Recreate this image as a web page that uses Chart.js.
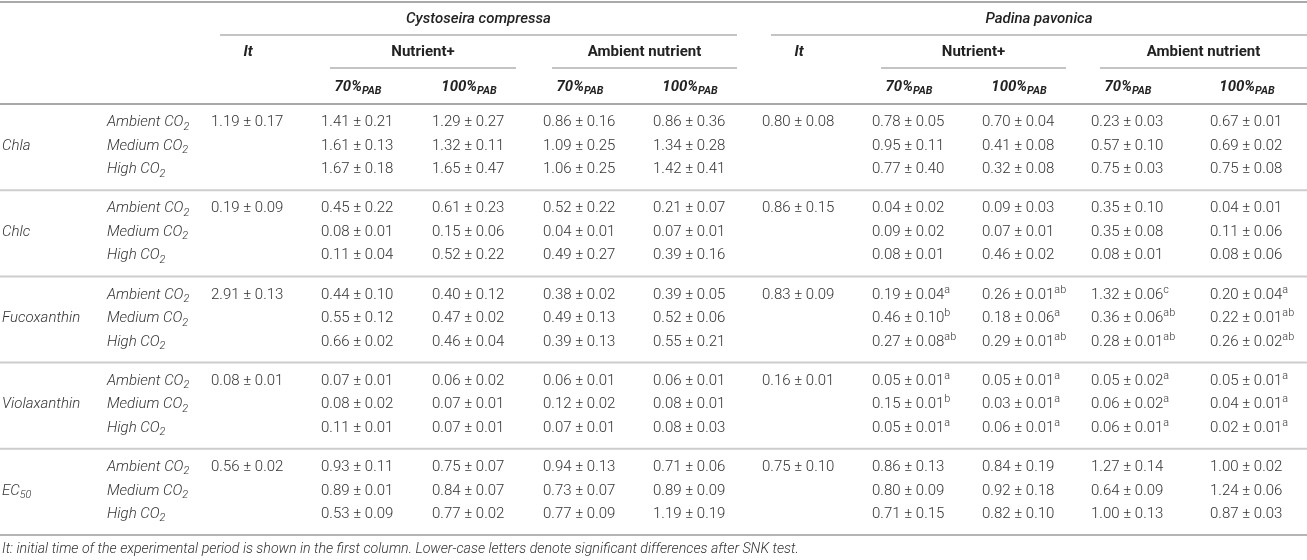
<!DOCTYPE html>
<html lang="en">
<head>
<meta charset="UTF-8">
<title>Pigments and EC50 – Cystoseira compressa / Padina pavonica</title>
<script src="https://cdn.jsdelivr.net/npm/chart.js"></script>
<style>
  html, body { margin: 0; padding: 0; background: #fff; }
  #table-chart { display: block; }
</style>
</head>
<body>
<canvas id="table-chart" width="1307" height="560"></canvas>
<script>
  // ---- labels ----
  const pigments = ['Chla', 'Chlc', 'Fucoxanthin', 'Violaxanthin', 'EC_{50}'];
  const co2Levels = ['Ambient CO_{2}', 'Medium CO_{2}', 'High CO_{2}'];
  const species = ['Cystoseira compressa', 'Padina pavonica'];
  const nutrients = ['Nutrient+', 'Ambient nutrient'];
  const lightLevels = ['70%_{PAB}', '100%_{PAB}'];
  const initialLabel = 'It';
  const footnote = 'It: initial time of the experimental period is shown in the first column. Lower-case letters denote significant differences after SNK test.';

  // ---- Cystoseira compressa (one value per pigment for It, then pigment x CO2) ----
  const cysItMean = [1.19, 0.19, 2.91, 0.08, 0.56];
  const cysItSe = [0.17, 0.09, 0.13, 0.01, 0.02];
  const cysNut70Mean = [1.41, 1.61, 1.67, 0.45, 0.08, 0.11, 0.44, 0.55, 0.66, 0.07, 0.08, 0.11, 0.93, 0.89, 0.53];
  const cysNut70Se = [0.21, 0.13, 0.18, 0.22, 0.01, 0.04, 0.10, 0.12, 0.02, 0.01, 0.02, 0.01, 0.11, 0.01, 0.09];
  const cysNut100Mean = [1.29, 1.32, 1.65, 0.61, 0.15, 0.52, 0.40, 0.47, 0.46, 0.06, 0.07, 0.07, 0.75, 0.84, 0.77];
  const cysNut100Se = [0.27, 0.11, 0.47, 0.23, 0.06, 0.22, 0.12, 0.02, 0.04, 0.02, 0.01, 0.01, 0.07, 0.07, 0.02];
  const cysAmb70Mean = [0.86, 1.09, 1.06, 0.52, 0.04, 0.49, 0.38, 0.49, 0.39, 0.06, 0.12, 0.07, 0.94, 0.73, 0.77];
  const cysAmb70Se = [0.16, 0.25, 0.25, 0.22, 0.01, 0.27, 0.02, 0.13, 0.13, 0.01, 0.02, 0.01, 0.13, 0.07, 0.09];
  const cysAmb100Mean = [0.86, 1.34, 1.42, 0.21, 0.07, 0.39, 0.39, 0.52, 0.55, 0.06, 0.08, 0.08, 0.71, 0.89, 1.19];
  const cysAmb100Se = [0.36, 0.28, 0.41, 0.07, 0.01, 0.16, 0.05, 0.06, 0.21, 0.01, 0.01, 0.03, 0.06, 0.09, 0.19];

  // ---- Padina pavonica ----
  const padItMean = [0.80, 0.86, 0.83, 0.16, 0.75];
  const padItSe = [0.08, 0.15, 0.09, 0.01, 0.10];
  const padNut70Mean = [0.78, 0.95, 0.77, 0.04, 0.09, 0.08, 0.19, 0.46, 0.27, 0.05, 0.15, 0.05, 0.86, 0.80, 0.71];
  const padNut70Se = [0.05, 0.11, 0.40, 0.02, 0.02, 0.01, 0.04, 0.10, 0.08, 0.01, 0.01, 0.01, 0.13, 0.09, 0.15];
  const padNut70Sig = ['', '', '', '', '', '', 'a', 'b', 'ab', 'a', 'b', 'a', '', '', ''];
  const padNut100Mean = [0.70, 0.41, 0.32, 0.09, 0.07, 0.46, 0.26, 0.18, 0.29, 0.05, 0.03, 0.06, 0.84, 0.92, 0.82];
  const padNut100Se = [0.04, 0.08, 0.08, 0.03, 0.01, 0.02, 0.01, 0.06, 0.01, 0.01, 0.01, 0.01, 0.19, 0.18, 0.10];
  const padNut100Sig = ['', '', '', '', '', '', 'ab', 'a', 'ab', 'a', 'a', 'a', '', '', ''];
  const padAmb70Mean = [0.23, 0.57, 0.75, 0.35, 0.35, 0.08, 1.32, 0.36, 0.28, 0.05, 0.06, 0.06, 1.27, 0.64, 1.00];
  const padAmb70Se = [0.03, 0.10, 0.03, 0.10, 0.08, 0.01, 0.06, 0.06, 0.01, 0.02, 0.02, 0.01, 0.14, 0.09, 0.13];
  const padAmb70Sig = ['', '', '', '', '', '', 'c', 'ab', 'ab', 'a', 'a', 'a', '', '', ''];
  const padAmb100Mean = [0.67, 0.69, 0.75, 0.04, 0.11, 0.08, 0.20, 0.22, 0.26, 0.05, 0.04, 0.02, 1.00, 1.24, 0.87];
  const padAmb100Se = [0.01, 0.02, 0.08, 0.01, 0.06, 0.06, 0.04, 0.01, 0.02, 0.01, 0.01, 0.01, 0.02, 0.06, 0.03];
  const padAmb100Sig = ['', '', '', '', '', '', 'a', 'ab', 'ab', 'a', 'a', 'a', '', '', ''];

  // ---- table layout (canvas units) ----
  const layout = {
    width: 1307, height: 560, left: 2,
    colWidths: [105, 104, 110, 111, 111, 110, 109, 110, 110, 109, 119],
    valueWidth: 74, spanInset: 9, spanOver: 10,
    topLine: 2, speciesY: 19, speciesLine: 35, nutrientY: 52, nutrientLine: 68, lightY: 87, headerLine: 104,
    groupPitch: 86.2, firstRow: 18.5, rowPitch: 23.5, footY: 549
  };
  const FONT = 'Roboto, "Liberation Sans", Arial, sans-serif';
  const styles = {
    value:   { style: 'normal', weight: 300, size: 15, color: '#333', align: 'left' },
    co2:     { style: 'italic', weight: 300, size: 15, color: '#333', align: 'left' },
    pigment: { style: 'italic', weight: 300, size: 15, color: '#333', align: 'left' },
    species: { style: 'italic', weight: 500, size: 15, color: '#222', align: 'center' },
    nutrient:{ style: 'normal', weight: 700, size: 15, color: '#222', align: 'center' },
    head:    { style: 'italic', weight: 700, size: 15, color: '#222', align: 'center' },
    foot:    { style: 'italic', weight: 300, size: 14.2, color: '#333', align: 'left' }
  };

  const colLeft = [layout.left];
  layout.colWidths.forEach((w, i) => colLeft.push(colLeft[i] + w));

  // value columns: column index, initial-time flag, source arrays
  const valueColumns = [
    { col: 2, initial: true, mean: cysItMean, se: cysItSe },
    { col: 3, mean: cysNut70Mean, se: cysNut70Se },
    { col: 4, mean: cysNut100Mean, se: cysNut100Se },
    { col: 5, mean: cysAmb70Mean, se: cysAmb70Se },
    { col: 6, mean: cysAmb100Mean, se: cysAmb100Se },
    { col: 7, initial: true, mean: padItMean, se: padItSe },
    { col: 8, mean: padNut70Mean, se: padNut70Se, sig: padNut70Sig },
    { col: 9, mean: padNut100Mean, se: padNut100Se, sig: padNut100Sig },
    { col: 10, mean: padAmb70Mean, se: padAmb70Se, sig: padAmb70Sig },
    { col: 11, mean: padAmb100Mean, se: padAmb100Se, sig: padAmb100Sig }
  ];

  function rowY(p, c) {
    return layout.headerLine + p * layout.groupPitch + layout.firstRow + c * layout.rowPitch;
  }
  function fmt(m, s, sig) {
    return m.toFixed(2) + ' ± ' + s.toFixed(2) + (sig ? '^{' + sig + '}' : '');
  }

  // body cells
  const cells = [];
  pigments.forEach((pig, p) => {
    cells.push({ x: colLeft[0], y: rowY(p, 1), text: pig, role: 'pigment' });
    co2Levels.forEach((lvl, c) => {
      cells.push({ x: colLeft[1], y: rowY(p, c), text: lvl, role: 'co2' });
      valueColumns.forEach(vc => {
        if (vc.initial) {
          if (c === 0) cells.push({ x: colLeft[vc.col], y: rowY(p, c), text: fmt(vc.mean[p], vc.se[p]), role: 'value' });
        } else {
          const i = p * 3 + c;
          cells.push({ x: colLeft[vc.col], y: rowY(p, c), text: fmt(vc.mean[i], vc.se[i], vc.sig ? vc.sig[i] : ''), role: 'value' });
        }
      });
    });
  });
  cells.push({ x: colLeft[0], y: layout.footY, text: footnote, role: 'foot' });

  // header cells and spanning rules
  function spanStart(col) { return colLeft[col] + layout.spanInset; }
  function spanEnd(col) { return col === 11 ? layout.width : colLeft[col] + layout.valueWidth + layout.spanOver; }
  const speciesSpans = [[2, 6], [7, 11]];
  const nutrientSpans = [[3, 4], [5, 6], [8, 9], [10, 11]];
  const headers = [];
  speciesSpans.forEach((s, i) => {
    headers.push({ x: (spanStart(s[0]) + spanEnd(s[1])) / 2, y: layout.speciesY, text: species[i], role: 'species' });
  });
  nutrientSpans.forEach((s, i) => {
    headers.push({ x: (spanStart(s[0]) + spanEnd(s[1])) / 2, y: layout.nutrientY, text: nutrients[i % 2], role: 'nutrient' });
    s.forEach((col, j) => {
      headers.push({ x: colLeft[col] + layout.valueWidth / 2, y: layout.lightY, text: lightLevels[j], role: 'head' });
    });
  });
  [2, 7].forEach(col => {
    headers.push({ x: colLeft[col] + layout.valueWidth / 2, y: layout.nutrientY, text: initialLabel, role: 'head' });
  });

  const rules = [
    { y: layout.topLine, x1: 0, x2: layout.width, w: 2, color: '#a9a9a9' },
    { y: layout.headerLine, x1: 0, x2: layout.width, w: 2, color: '#a9a9a9' }
  ];
  speciesSpans.forEach(s => rules.push({ y: layout.speciesLine, x1: spanStart(s[0]), x2: spanEnd(s[1]), w: 1.5, color: '#b0b0b0' }));
  nutrientSpans.forEach(s => rules.push({ y: layout.nutrientLine, x1: spanStart(s[0]), x2: spanEnd(s[1]), w: 1.5, color: '#b0b0b0' }));
  pigments.forEach((pig, p) => {
    rules.push({ y: layout.headerLine + (p + 1) * layout.groupPitch, x1: 0, x2: layout.width, w: 2,
      color: p === pigments.length - 1 ? '#b5b5b5' : '#cdcdcd' });
  });

  // ---- rich text (sub/superscript via _{ } and ^{ }) ----
  function fontStr(st, size) { return `${st.style} ${st.weight} ${size}px ${FONT}`; }
  function parseRich(str) {
    const parts = [];
    const re = /([_^])\{([^}]*)\}/g;
    let last = 0, m;
    while ((m = re.exec(str))) {
      if (m.index > last) parts.push({ t: str.slice(last, m.index), pos: 0 });
      parts.push({ t: m[2], pos: m[1] === '_' ? 1 : -1 });
      last = re.lastIndex;
    }
    if (last < str.length) parts.push({ t: str.slice(last), pos: 0 });
    return parts;
  }
  function drawRich(ctx, str, x, y, st) {
    const parts = parseRich(str);
    const small = st.size * 0.72;
    let total = 0;
    parts.forEach(pt => {
      ctx.font = fontStr(st, pt.pos ? small : st.size);
      pt.w = ctx.measureText(pt.t).width;
      total += pt.w;
    });
    let cx = st.align === 'center' ? x - total / 2 : x;
    ctx.fillStyle = st.color;
    ctx.textAlign = 'left';
    ctx.textBaseline = 'middle';
    parts.forEach(pt => {
      ctx.font = fontStr(st, pt.pos ? small : st.size);
      const dy = pt.pos === 1 ? st.size * 0.3 : pt.pos === -1 ? -st.size * 0.32 : 0;
      ctx.fillText(pt.t, cx, y + dy);
      cx += pt.w;
    });
  }

  const tablePlugin = {
    id: 'tableText',
    beforeDatasetsDraw(chart) {
      const { ctx, scales: { x, y } } = chart;
      ctx.save();
      rules.forEach(r => {
        ctx.beginPath();
        ctx.strokeStyle = r.color;
        ctx.lineWidth = r.w;
        const py = y.getPixelForValue(r.y);
        ctx.moveTo(x.getPixelForValue(r.x1), py);
        ctx.lineTo(x.getPixelForValue(r.x2), py);
        ctx.stroke();
      });
      ctx.restore();
    },
    afterDatasetsDraw(chart) {
      const ctx = chart.ctx;
      ctx.save();
      chart.data.datasets.forEach((ds, di) => {
        chart.getDatasetMeta(di).data.forEach((el, i) => {
          const raw = ds.data[i];
          drawRich(ctx, raw.text, el.x, el.y, styles[raw.role]);
        });
      });
      ctx.restore();
    }
  };

  new Chart(document.getElementById('table-chart'), {
    type: 'scatter',
    data: {
      datasets: [
        { label: 'cells', data: cells, pointRadius: 0, pointHoverRadius: 0 },
        { label: 'headers', data: headers, pointRadius: 0, pointHoverRadius: 0 }
      ]
    },
    options: {
      responsive: false,
      animation: false,
      events: [],
      layout: { padding: 0 },
      plugins: { legend: { display: false }, tooltip: { enabled: false } },
      scales: {
        x: { type: 'linear', display: false, min: 0, max: layout.width },
        y: { type: 'linear', display: false, min: 0, max: layout.height, reverse: true }
      }
    },
    plugins: [tablePlugin]
  });
</script>
</body>
</html>
